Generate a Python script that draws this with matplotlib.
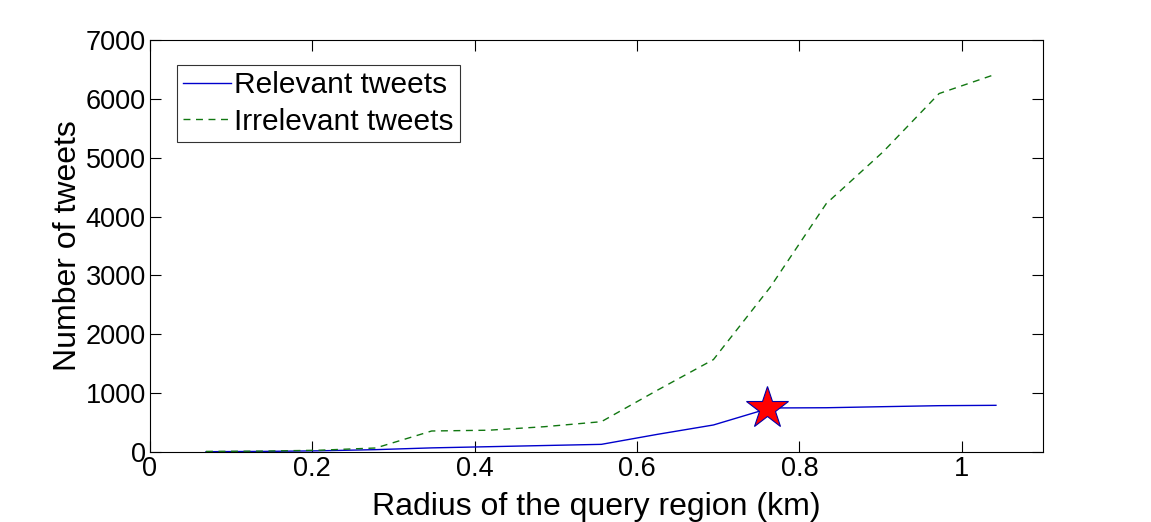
import matplotlib.pyplot as plt

# radius of the query region (km)
radius = [0.069, 0.139, 0.208, 0.278, 0.347, 0.417, 0.486, 0.556,
          0.625, 0.694, 0.764, 0.833, 0.903, 0.972, 1.042]

relevant = [5, 10, 20, 40, 70, 90, 110, 130,
            300, 459, 748, 752, 770, 787, 793]
irrelevant = [10, 15, 30, 68, 357, 370, 430, 515,
              1050, 1570, 2800, 4220, 5100, 6090, 6420]

# chosen radius (star)
best_radius = [0.76]
best_value = [748]

fig = plt.figure(figsize=(11.51, 5.22), dpi=100)
ax = fig.add_axes([0.1303, 0.1341, 0.7759, 0.7893])

ax.plot(radius, relevant, color='#0000cc', linestyle='-', linewidth=1.0, label='Relevant tweets')
ax.plot(radius, irrelevant, color='#117711', linestyle=(0, (5, 4)), linewidth=1.0, label='Irrelevant tweets')
ax.plot(best_radius, best_value, marker='*', markersize=32, markerfacecolor='#ff0000',
        markeredgecolor='#0000aa', markeredgewidth=0.8, linestyle='none')

ax.set_xlim(0, 1.1)
ax.set_ylim(0, 7000)
ax.set_xticks([0, 0.2, 0.4, 0.6, 0.8, 1])
ax.set_xticklabels(['0', '0.2', '0.4', '0.6', '0.8', '1'])
ax.set_yticks(range(0, 7001, 1000))

font = ['Liberation Sans', 'DejaVu Sans']
for lab in ax.get_xticklabels() + ax.get_yticklabels():
    lab.set_family(font)
    lab.set_fontsize(19.5)

ax.tick_params(direction='in', length=8, width=0.8, top=True, right=True, pad=3)
for s in ax.spines.values():
    s.set_linewidth(0.8)

ax.set_xlabel('Radius of the query region (km)', fontsize=23, family=font, labelpad=7)
ax.set_ylabel('Number of tweets', fontsize=23, family=font, labelpad=2)

leg = ax.legend(loc='upper left', bbox_to_anchor=(0.03, 0.94), prop={'family': font, 'size': 21.5},
                frameon=True, fancybox=False, handlelength=1.6, handletextpad=0.1,
                borderpad=0.22, labelspacing=0.28, borderaxespad=0)
leg.get_frame().set_edgecolor('black')
leg.get_frame().set_linewidth(0.8)

fig.savefig('out.png', dpi=100)
